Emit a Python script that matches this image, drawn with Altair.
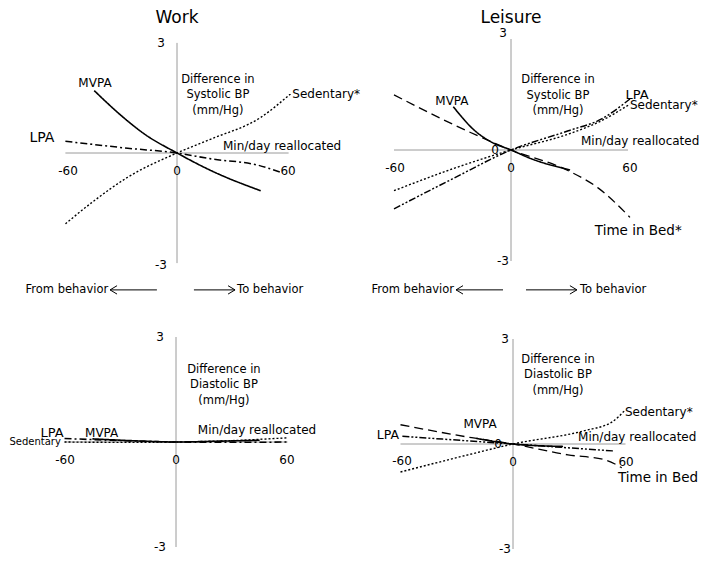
import altair as alt
import pandas as pd

FONT = "DejaVu Sans"

# ---------------- data (minutes reallocated vs. difference in BP, mm/Hg) ----------------
# Work - systolic
ws_mvpa_x = [-44.5, -30, -17.6, 0, 18.3, 45]
ws_mvpa_y = [1.70, 1.02, 0.52, 0, -0.48, -1.03]
ws_lpa_x = [-60, -26.5, 0, 18.3, 43.4, 56]
ws_lpa_y = [0.32, 0.13, 0, -0.16, -0.33, -0.53]
ws_sed_x = [-60, -44.5, -26.5, 0, 18.3, 45, 61]
ws_sed_y = [-1.93, -1.30, -0.66, 0, 0.38, 0.97, 1.61]

# Leisure - systolic
ls_bed_x = [-60, -30, 0, 29.4, 44.8, 61]
ls_bed_y = [1.49, 0.70, 0, -0.56, -1.03, -1.82]
ls_mvpa_x = [-29.6, -18.5, -9.9, 0, 10.6, 30.3]
ls_mvpa_y = [1.17, 0.52, 0.21, 0, -0.24, -0.54]
ls_lpa_x = [-60, -30, 0, 29.4, 46.5, 61]
ls_lpa_y = [-1.59, -0.78, 0, 0.52, 0.84, 1.38]
ls_sed_x = [-60, -30, 0, 29.4, 44.8, 61]
ls_sed_y = [-1.10, -0.51, 0, 0.43, 0.75, 1.24]

# Work - diastolic
wd_mvpa_x = [-45, -20, 0, 20, 45]
wd_mvpa_y = [0.09, 0.03, 0, 0.02, 0.05]
wd_lpa_x = [-60, -30, 0, 30, 60]
wd_lpa_y = [0.10, 0.04, 0, -0.01, 0.0]
wd_sed_x = [-60, -30, 0, 30, 60]
wd_sed_y = [0.0, -0.01, 0, 0.04, 0.12]

# Leisure - diastolic
ld_bed_x = [-60, -22, 0, 29.3, 48.9, 58]
ld_bed_y = [0.55, 0.18, 0, -0.31, -0.45, -0.68]
ld_mvpa_x = [-19.5, 0, 26.7]
ld_mvpa_y = [0.16, 0, -0.07]
ld_lpa_x = [-59, 0, 54]
ld_lpa_y = [0.22, 0, -0.20]
ld_sed_x = [-60, -24, 0, 38, 52.5, 60]
ld_sed_y = [-0.80, -0.31, 0, 0.38, 0.62, 0.98]

x_axis_range = [-60, 60]
y_axis_range = [-3, 3]

STYLE_DOMAIN = ["solid", "dashdot", "dashdotdot", "dot", "dash"]
STYLE_DASH = [[1, 0], [7, 3, 2, 3], [7, 2, 2, 2, 2, 2], [2, 2], [9, 5]]
STYLE_WIDTH = [1.6, 1.3, 1.3, 1.3, 1.4]

series = {
    "ws": [("MVPA", "solid", ws_mvpa_x, ws_mvpa_y),
           ("LPA", "dashdot", ws_lpa_x, ws_lpa_y),
           ("Sedentary", "dot", ws_sed_x, ws_sed_y)],
    "ls": [("Time in Bed", "dash", ls_bed_x, ls_bed_y),
           ("MVPA", "solid", ls_mvpa_x, ls_mvpa_y),
           ("LPA", "dashdotdot", ls_lpa_x, ls_lpa_y),
           ("Sedentary", "dot", ls_sed_x, ls_sed_y)],
    "wd": [("MVPA", "solid", wd_mvpa_x, wd_mvpa_y),
           ("LPA", "dashdot", wd_lpa_x, wd_lpa_y),
           ("Sedentary", "dot", wd_sed_x, wd_sed_y)],
    "ld": [("Time in Bed", "dash", ld_bed_x, ld_bed_y),
           ("MVPA", "solid", ld_mvpa_x, ld_mvpa_y),
           ("LPA", "dashdotdot", ld_lpa_x, ld_lpa_y),
           ("Sedentary", "dot", ld_sed_x, ld_sed_y)],
}

SYS = "Difference in\nSystolic BP\n(mm/Hg)"
DIA = "Difference in\nDiastolic BP\n(mm/Hg)"

# annotations: (text, x, y, size, align)
annotations = {
    "ws": [("Work", 0, 3.68, 17, "center"),
           ("3", -8.6, 3.0, 12, "center"), ("-3", -8.6, -3.05, 12, "center"),
           ("-60", -58.6, -0.49, 12, "center"), ("0", 0, -0.49, 12, "center"),
           ("60", 59.7, -0.49, 12, "center"),
           (SYS, 22, 1.99, 11.5, "center"),
           ("MVPA", -44.1, 1.91, 12, "center"),
           ("Sedentary*", 62, 1.61, 12, "left"),
           ("LPA", -72.6, 0.41, 14, "center"),
           ("Min/day reallocated", 24.7, 0.19, 12, "left"),
           ("From behavior", -37, -3.73, 11.5, "right"),
           ("To behavior", 32.3, -3.73, 11.5, "left")],
    "ls": [("Leisure", 0, 3.57, 17, "center"),
           ("3", -4.1, 3.17, 12, "center"), ("-3", -4.1, -3.0, 12, "center"),
           ("-60", -59.5, -0.49, 12, "center"), ("0", 0, -0.49, 12, "center"),
           ("60", 61, -0.49, 12, "center"), ("0", -8.2, 0.0, 12, "center"),
           (SYS, 24.1, 1.89, 11.5, "center"),
           ("MVPA", -30.3, 1.32, 12, "center"),
           ("LPA", 64.6, 1.49, 13, "center"),
           ("Sedentary*", 61, 1.22, 12, "left"),
           ("Min/day reallocated", 35.9, 0.24, 12, "left"),
           ("Time in Bed*", 43, -2.19, 13.5, "left"),
           ("From behavior", -29.2, -3.78, 11.5, "right"),
           ("To behavior", 35.4, -3.78, 11.5, "left")],
    "wd": [("3", -8.6, 3.0, 12, "center"), ("-3", -8.6, -3.0, 12, "center"),
           ("-60", -59.7, -0.51, 12, "center"), ("0", 0, -0.51, 12, "center"),
           ("60", 59.7, -0.51, 12, "center"),
           (DIA, 25.8, 2.06, 11.5, "center"),
           ("LPA", -66.7, 0.27, 13, "center"),
           ("MVPA", -40, 0.27, 12, "center"),
           ("Sedentary", -62, 0.0, 10, "right"),
           ("Min/day reallocated", 43.6, 0.35, 12, "center")],
    "ld": [("3", -4.3, 3.0, 12, "center"), ("-3", -4.3, -3.0, 12, "center"),
           ("-60", -59.2, -0.48, 12, "center"), ("0", 0, -0.5, 12, "center"),
           ("60", 60.3, -0.5, 12, "center"), ("0", -8, 0.0, 12, "center"),
           (DIA, 24, 2.41, 11.5, "center"),
           ("Sedentary*", 59.7, 0.91, 12, "left"),
           ("LPA", -66.7, 0.27, 12.5, "center"),
           ("MVPA", -17.6, 0.56, 12, "center"),
           ("Min/day reallocated", 34.7, 0.19, 12, "left"),
           ("Time in Bed", 56, -0.97, 13.5, "left")],
}

# arrows: (tail, tip, y, direction)
arrows = {
    "ws": [(-10.8, -36, -3.73, "left"), (9.1, 31.2, -3.73, "right")],
    "ls": [(-4.1, -28.2, -3.78, "left"), (7.7, 33.8, -3.78, "right")],
}

# panel layout: width, height, origin px (x, y), px per minute, px per mm/Hg
layout = {
    "ws": (342, 288, 169, 144, 1.86, 36.7),
    "ls": (351, 288, 161, 141, 1.95, 37.0),
    "wd": (342, 258, 168, 145, 1.858, 35.0),
    "ld": (351, 258, 163, 147, 1.875, 35.0),
}

PATH_LEFT = "M1,-0.6L0,0L1,0.6"
PATH_RIGHT = "M-1,-0.6L0,0L-1,0.6"


def panel(key):
    w, h, ox, oy, ppx, ppy = layout[key]
    xs = alt.Scale(domain=[-ox / ppx, (w - ox) / ppx], nice=False, zero=False)
    ys = alt.Scale(domain=[-(h - oy) / ppy, oy / ppy], nice=False, zero=False)

    def X(f):
        return alt.X(f, type="quantitative", scale=xs, axis=None)

    def Y(f):
        return alt.Y(f, type="quantitative", scale=ys, axis=None)

    axes_df = pd.DataFrame({
        "x": [x_axis_range[0], 0], "x2": [x_axis_range[1], 0],
        "y": [0, y_axis_range[0]], "y2": [0, y_axis_range[1]],
    })
    axes = alt.Chart(axes_df).mark_rule(color="#9a9a9a", strokeWidth=1).encode(
        x=X("x"), x2="x2:Q", y=Y("y"), y2="y2:Q")

    rows = []
    for name, style, xv, yv in series[key]:
        for i, (a, b) in enumerate(zip(xv, yv)):
            rows.append({"series": name, "style": style, "x": a, "y": b, "i": i})
    ldf = pd.DataFrame(rows)
    lines = alt.Chart(ldf).mark_line(color="black", interpolate="monotone").encode(
        x=X("x"), y=Y("y"), detail="series:N", order="i:Q",
        strokeDash=alt.StrokeDash("style:N", scale=alt.Scale(domain=STYLE_DOMAIN, range=STYLE_DASH), legend=None),
        strokeWidth=alt.StrokeWidth("style:N", scale=alt.Scale(domain=STYLE_DOMAIN, range=STYLE_WIDTH), legend=None),
    )

    layers = [axes, lines]
    adf = pd.DataFrame(annotations[key], columns=["text", "x", "y", "size", "align"])
    for al in ["left", "center", "right"]:
        sub = adf[adf["align"] == al]
        if len(sub) == 0:
            continue
        layers.append(alt.Chart(sub).mark_text(
            font=FONT, color="black", align=al, baseline="middle",
            lineBreak="\n", lineHeight=15.5).encode(
            x=X("x"), y=Y("y"), text="text:N", size=alt.Size("size:Q", scale=None)))

    if key in arrows:
        ardf = pd.DataFrame(arrows[key], columns=["tail", "tip", "y", "dir"])
        layers.append(alt.Chart(ardf).mark_rule(color="black", strokeWidth=1).encode(
            x=X("tail"), x2="tip:Q", y=Y("y")))
        layers.append(alt.Chart(ardf).mark_point(
            filled=False, color="black", opacity=1, strokeWidth=1, size=196).encode(
            x=X("tip"), y=Y("y"),
            shape=alt.Shape("dir:N", scale=alt.Scale(domain=["left", "right"], range=[PATH_LEFT, PATH_RIGHT]), legend=None)))

    return alt.layer(*layers).properties(width=w, height=h)


chart = alt.concat(panel("ws"), panel("ls"), panel("wd"), panel("ld"),
                   columns=2, spacing=0, bounds="flush").properties(
    padding=0).configure_view(stroke=None)

chart.save("out.html", embed_options={"renderer": "svg", "actions": False})
